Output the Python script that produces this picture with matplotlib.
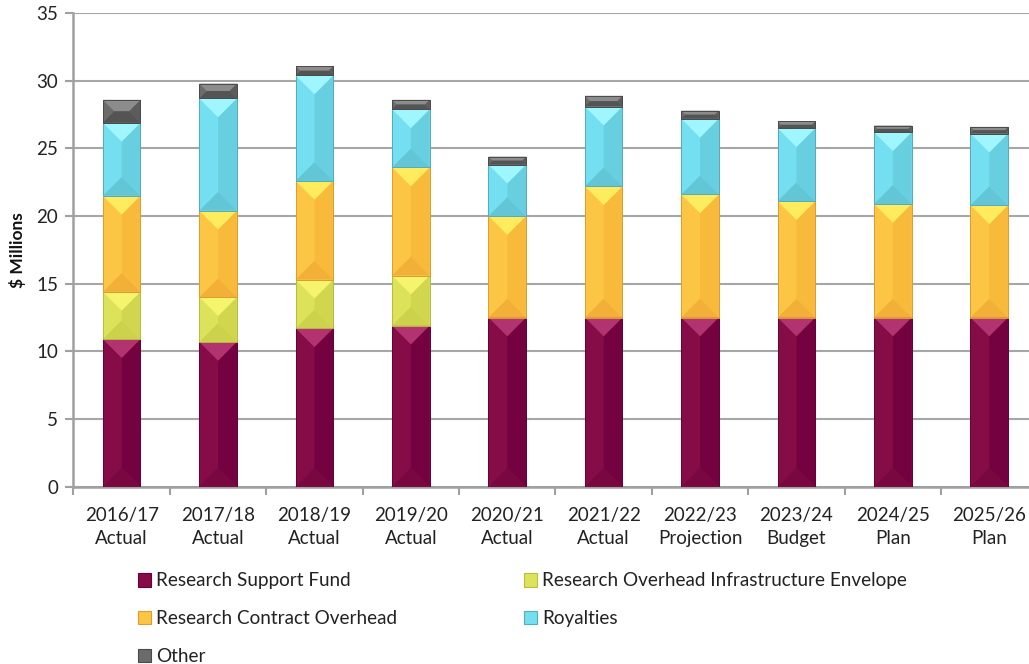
import numpy as np
import matplotlib
matplotlib.use("Agg")
import matplotlib.pyplot as plt
from matplotlib.patches import Polygon, Patch

plt.rcParams['font.family'] = ['Lato', 'DejaVu Sans']

# 年度与数值（百万美元）
years = ['2016/17\nActual', '2017/18\nActual', '2018/19\nActual', '2019/20\nActual',
         '2020/21\nActual', '2021/22\nActual', '2022/23\nProjection', '2023/24\nBudget',
         '2024/25\nPlan', '2025/26\nPlan']
support_fund = [10.9, 10.7, 11.7, 11.9, 12.5, 12.5, 12.5, 12.5, 12.5, 12.5]
infra_envelope = [3.5, 3.3, 3.6, 3.7, 0, 0, 0, 0, 0, 0]
contract_overhead = [7.1, 6.4, 7.3, 8.0, 7.5, 9.7, 9.1, 8.6, 8.4, 8.3]
royalties = [5.4, 8.3, 7.8, 4.3, 3.8, 5.9, 5.6, 5.4, 5.3, 5.3]
other = [1.7, 1.1, 0.7, 0.7, 0.6, 0.8, 0.6, 0.5, 0.5, 0.5]

names = ['Research Support Fund', 'Research Overhead Infrastructure Envelope',
         'Research Contract Overhead', 'Royalties', 'Other']
series = [support_fund, infra_envelope, contract_overhead, royalties, other]

# 每个系列：主色、顶部高光、右侧暗面、底部暗面、边框
colors = [
    ('#860c48', '#b2336f', '#740240', '#7a0840', '#6a0036'),
    ('#dce35a', '#f5f46c', '#d0d64e', '#cdd24c', '#b8bd40'),
    ('#fdc544', '#ffeb5e', '#f8ba3a', '#f2b038', '#dc9e30'),
    ('#74dff0', '#a0f6ff', '#68cfe0', '#62c6d6', '#52aebe'),
    ('#6b6b6b', '#8c8c8c', '#5c5c5c', '#545454', '#4a4a4a'),
]

fig = plt.figure(figsize=(10.29, 6.64), dpi=100)
ax = fig.add_axes([0.0714, 0.2673, 0.9368, 0.7127])

x = np.arange(len(years))
width = 0.39
ax.set_xlim(-0.5, len(years) - 0.5)
ax.set_ylim(0, 35)

bottom = np.zeros(len(years))
bars = []
for vals, c in zip(series, colors):
    b = ax.bar(x, vals, width, bottom=bottom, color=c[0], edgecolor=c[4],
               linewidth=0.6, zorder=3)
    bars.append(b)
    bottom += np.array(vals)

# 立体斜面效果
to_px = ax.transData
to_data = ax.transData.inverted()
for b, c in zip(bars, colors):
    for p in b.patches:
        if p.get_height() <= 0:
            continue
        (x0, y0) = to_px.transform((p.get_x(), p.get_y()))
        (x1, y1) = to_px.transform((p.get_x() + p.get_width(), p.get_y() + p.get_height()))
        d = min((x1 - x0) / 2, (y1 - y0) / 2)
        faces = [
            ([(x1, y0), (x1 - d, y0 + d), (x1 - d, y1 - d), (x1, y1)], c[2]),
            ([(x0, y1), (x1, y1), (x1 - d, y1 - d), (x0 + d, y1 - d)], c[1]),
            ([(x0, y0), (x1, y0), (x1 - d, y0 + d), (x0 + d, y0 + d)], c[3]),
        ]
        for pts, fc in faces:
            poly = Polygon(to_data.transform(pts), closed=True, facecolor=fc,
                           edgecolor='none', zorder=3.5)
            ax.add_patch(poly)
        ax.add_patch(Polygon(to_data.transform([(x0, y0), (x1, y0), (x1, y1), (x0, y1)]),
                             closed=True, fill=False, edgecolor=c[4], linewidth=0.7,
                             zorder=3.6))

ax.set_yticks(np.arange(0, 36, 5))
ax.yaxis.grid(True, color='#a6a6a6', linewidth=1.5, zorder=0)
ax.set_axisbelow(True)
ax.set_xticks(x)
ax.set_xticklabels(years, fontsize=13.5, color='#222222', linespacing=1.38)
ax.set_xticks(np.arange(-0.5, len(years), 1), minor=True)
ax.tick_params(axis='x', which='major', length=0, pad=15)
ax.tick_params(axis='x', which='minor', length=6, width=1.5, color='#a0a0a0')
ax.tick_params(axis='y', length=6, width=1.5, color='#a0a0a0', labelsize=13.5,
               labelcolor='#222222', pad=5)

for s in ['top', 'right']:
    ax.spines[s].set_visible(False)
for s in ['left', 'bottom']:
    ax.spines[s].set_color('#a0a0a0')
    ax.spines[s].set_linewidth(1.8)

fig.text(0.017, 0.623, '$ Millions', rotation=90, ha='center', va='center',
         fontsize=12.5, fontweight='bold', color='#111111')

# 图例分两列
handles = [Patch(facecolor=c[0], edgecolor=c[4], linewidth=0.8) for c in colors]
for idx, xpos in [([0, 2, 4], 0.134), ([1, 3], 0.509)]:
    leg = fig.legend([handles[i] for i in idx], [names[i] for i in idx],
                     loc='upper left', bbox_to_anchor=(xpos, 0.138),
                     frameon=False, fontsize=13.6, handlelength=0.72,
                     handleheight=0.72, handletextpad=0.25, labelspacing=1.1,
                     borderaxespad=0, borderpad=0)
    for t in leg.get_texts():
        t.set_color('#222222')

fig.savefig('out.png', dpi=100)
